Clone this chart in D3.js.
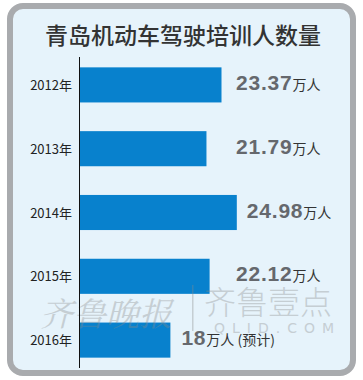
<!DOCTYPE html>
<html>
<head>
<meta charset="utf-8">
<script src="https://cdn.jsdelivr.net/npm/d3@7"></script>
<style>
  html, body { margin: 0; padding: 0; background: #fff; }
  svg { display: block; }
</style>
</head>
<body>
<svg id="chart" width="363" height="380"></svg>
<script>
const title = '青岛机动车驾驶培训人数量'
const years = ['2012年', '2013年', '2014年', '2015年', '2016年']
const values = [23.37, 21.79, 24.98, 22.12, 18]
const valueTexts = ['23.37', '21.79', '24.98', '22.12', '18']
const unitTexts = ['万人', '万人', '万人', '万人', '万人 (预计)']

const cjk = '"Noto Sans CJK SC", "Noto Sans", sans-serif'
const svg = d3.select('#chart')

// 外框
svg.append('rect')
  .attr('x', 10).attr('y', 6)
  .attr('width', 343).attr('height', 367)
  .attr('rx', 13)
  .attr('fill', '#e6f3fb')
  .attr('stroke', '#a9abae')
  .attr('stroke-width', 6)

svg.append('text')
  .attr('x', 183).attr('y', 44)
  .attr('text-anchor', 'middle')
  .style('font-family', cjk)
  .style('font-size', '23px')
  .style('font-weight', 500)
  .attr('fill', '#333')
  .text(title)

const data = years.map((y, i) => ({ year: y, value: values[i], label: valueTexts[i], unit: unitTexts[i] }))

const x0 = 8.5
const x = d3.scaleLinear().domain([x0, 25]).range([80, 237])
const y = d3.scaleBand().domain(years).range([53, 372]).paddingInner(0.45).paddingOuter(0.225)

svg.append('g')
  .selectAll('rect')
  .data(data)
  .join('rect')
  .attr('x', x(x0))
  .attr('y', d => y(d.year))
  .attr('width', d => x(d.value) - x(x0))
  .attr('height', y.bandwidth())
  .attr('fill', '#0881cd')

// 水印
const wm = svg.append('g').attr('fill', '#8a8a8a').attr('opacity', 0.35)
wm.append('text')
  .attr('x', 40).attr('y', 326)
  .style('font-family', '"Noto Serif CJK SC", ' + cjk)
  .style('font-size', '33px')
  .style('font-style', 'italic')
  .text('齐鲁晚报')
wm.append('rect').attr('x', 192).attr('y', 285).attr('width', 1.5).attr('height', 46)
wm.append('text')
  .attr('x', 204).attr('y', 314)
  .style('font-family', cjk)
  .style('font-size', '32px')
  .style('font-weight', 300)
  .text('齐鲁壹点')
wm.append('text')
  .attr('x', 214).attr('y', 333)
  .style('font-family', '"DejaVu Sans", sans-serif')
  .style('font-size', '14px')
  .style('letter-spacing', '7px')
  .text('QLID.COM')

// 年份
svg.append('g')
  .selectAll('text')
  .data(data)
  .join('text')
  .attr('x', 72)
  .attr('y', d => y(d.year) + y.bandwidth() / 2 + 5)
  .attr('text-anchor', 'end')
  .style('font-family', cjk)
  .style('font-size', '13px')
  .attr('fill', '#222')
  .text(d => d.year)

// 轴线
svg.append('line')
  .attr('x1', 79.5).attr('x2', 79.5)
  .attr('y1', 57).attr('y2', 368)
  .attr('stroke', '#111')
  .attr('stroke-width', 1)

// 数值
const labels = svg.append('g')
  .selectAll('text')
  .data(data)
  .join('text')
  .attr('x', (d, i) => i === 4 ? x(d.value) + 11 : Math.max(x(d.value) + 10, 236))
  .attr('y', d => y(d.year) + y.bandwidth() / 2 + 5)

labels.append('tspan')
  .style('font-family', '"Liberation Sans Narrow", "Arial Narrow", "Liberation Sans", sans-serif')
  .style('font-size', '21px')
  .style('font-weight', 'bold')
  .style('letter-spacing', '0.8px')
  .attr('fill', '#65686d')
  .text(d => d.label)

labels.append('tspan')
  .style('font-family', cjk)
  .style('font-size', '14px')
  .attr('fill', '#333')
  .text(d => d.unit)
</script>
</body>
</html>
